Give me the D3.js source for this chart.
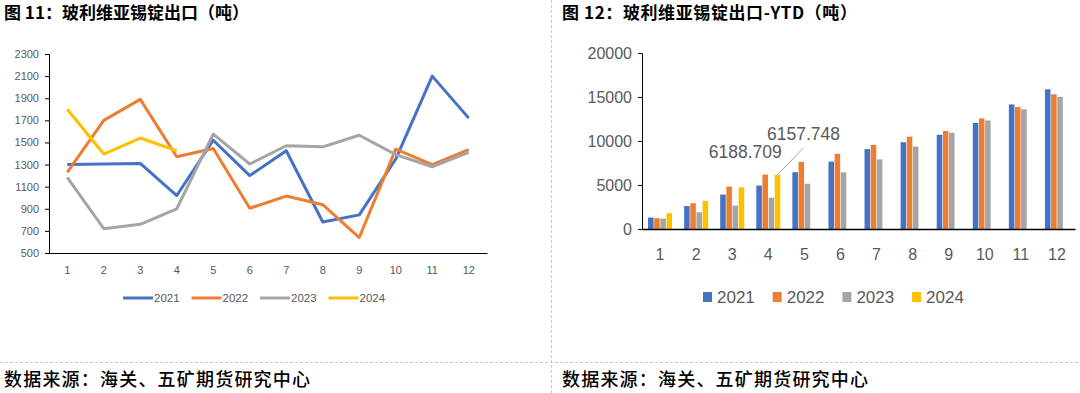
<!DOCTYPE html>
<html>
<head>
<meta charset="utf-8">
<script src="https://cdn.jsdelivr.net/npm/d3@7"></script>
<style>
  body { margin: 0; background: #fff; }
  svg { display: block; font-family: "Liberation Sans", Arial, sans-serif; }
  .cjk { font-family: "Noto Sans CJK SC", sans-serif; }
</style>
</head>
<body>
<div id="chart"></div>
<script>
const months = [1,2,3,4,5,6,7,8,9,10,11,12];
const years = ["2021","2022","2023","2024"];
const colors = ["#4472C4","#ED7D31","#A5A5A5","#FFC000"];

// monthly exports (t)
const m2021 = [1300,1305,1310,1020,1520,1200,1425,780,845,1350,2100,1720];
const m2022 = [1230,1700,1890,1370,1445,905,1015,937,640,1440,1300,1435];
const m2023 = [1185,720,760,900,1575,1305,1470,1460,1565,1390,1280,1410];
const m2024 = [1800,1395,1540,1425];

// year to date (t)
const y2021 = [1300,2605,3915,4935,6455,7655,9080,9860,10705,12055,14155,15875];
const y2022 = [1230,2930,4820,6188.709,7635,8540,9555,10490,11130,12570,13870,15305];
const y2023 = [1185,1905,2665,3565,5140,6445,7915,9375,10940,12330,13610,15020];
const y2024 = [1800,3195,4735,6157.748];

const leftTicks = [500,700,900,1100,1300,1500,1700,1900,2100,2300];
const rightTicks = [0,5000,10000,15000,20000];

const W = 1080, H = 393;
const svg = d3.select("#chart").append("svg").attr("width", W).attr("height", H);
const grey = "#595959";

// frames
svg.append("line").attr("x1", 551.5).attr("x2", 551.5).attr("y1", 0).attr("y2", H)
  .attr("stroke", "#c8c8c8").attr("stroke-dasharray", "3,2");
svg.append("line").attr("x1", 0).attr("x2", W).attr("y1", 362.5).attr("y2", 362.5)
  .attr("stroke", "#c8c8c8").attr("stroke-dasharray", "3,2");

// titles & sources
svg.append("text").attr("class","cjk").attr("x", 4).attr("y", 19)
  .attr("font-size", 17).attr("font-weight", "bold").text("图 11：玻利维亚锡锭出口（吨）");
svg.append("text").attr("class","cjk").attr("x", 562).attr("y", 19)
  .attr("font-size", 17).attr("font-weight", "bold").attr("letter-spacing", 0.6)
  .text("图 12：玻利维亚锡锭出口-YTD（吨）");
[4, 562].forEach(x => {
  svg.append("text").attr("class","cjk").attr("x", x).attr("y", 386)
    .attr("font-size", 18).attr("letter-spacing", 1.2).attr("font-weight", 500)
    .text("数据来源：海关、五矿期货研究中心");
});

// ---- left: line chart
const xL = d3.scaleBand().domain(months).range([49, 487]);
const yL = d3.scaleLinear().domain([500, 2300]).range([253, 54]);

const gy = svg.append("g").attr("transform", "translate(49,0)")
  .call(d3.axisLeft(yL).tickValues(leftTicks).tickFormat(d3.format("d")).tickSize(4).tickPadding(6));
gy.select(".domain").attr("stroke", "#000");
gy.selectAll(".tick line").attr("stroke", "#000");
gy.selectAll("text").attr("fill", grey).attr("font-size", 11);

const gx = svg.append("g").attr("transform", "translate(0,253)")
  .call(d3.axisBottom(xL).tickSize(0).tickPadding(13));
gx.select(".domain").attr("stroke", "#000");
gx.selectAll("text").attr("fill", grey).attr("font-size", 11);

const line = d3.line().x((d, i) => xL(months[i]) + xL.bandwidth() / 2).y(d => yL(d));
[m2021, m2022, m2023, m2024].forEach((s, k) => {
  svg.append("path").datum(s).attr("d", line).attr("fill", "none")
    .attr("stroke", colors[k]).attr("stroke-width", 3).attr("stroke-linejoin", "round");
});

const legL = svg.append("g").selectAll("g").data(years).join("g")
  .attr("transform", (d, i) => `translate(${123 + i * 68.5},298)`);
legL.append("line").attr("x1", 0).attr("x2", 30).attr("stroke", (d, i) => colors[i]).attr("stroke-width", 3);
legL.append("text").attr("x", 31).attr("dy", "0.35em").attr("font-size", 11.5).attr("fill", grey).text(d => d);

// ---- right: bar chart
const xR = d3.scaleBand().domain(months).range([642, 1075]);
const xS = d3.scaleBand().domain(years)
  .range([xR.bandwidth() / 2 - 12, xR.bandwidth() / 2 + 12]).paddingInner(0.1);
const yR = d3.scaleLinear().domain([0, 20000]).range([229, 53]);

const gy2 = svg.append("g").attr("transform", "translate(642,0)")
  .call(d3.axisLeft(yR).tickValues(rightTicks).tickFormat(d3.format("d")).tickSize(4).tickPadding(6));
gy2.select(".domain").attr("stroke", "#000");
gy2.selectAll(".tick line").attr("stroke", "#000");
gy2.selectAll("text").attr("fill", grey).attr("font-size", 16);

const series = [y2021, y2022, y2023, y2024];
series.forEach((s, k) => {
  svg.append("g").selectAll("rect").data(s).join("rect")
    .attr("x", (d, i) => xR(months[i]) + xS(years[k]))
    .attr("y", d => yR(d))
    .attr("width", xS.bandwidth())
    .attr("height", d => yR(0) - yR(d))
    .attr("fill", colors[k]);
});

const gx2 = svg.append("g").attr("transform", "translate(0,229)")
  .call(d3.axisBottom(xR).tickSize(0).tickPadding(20));
gx2.select(".domain").attr("stroke", "#000").attr("stroke-width", 1.5);
gx2.selectAll("text").attr("fill", grey).attr("font-size", 16);

// data labels at month 4
const ox = xR(4) + xS("2022") + xS.bandwidth() / 2, oy = yR(y2022[3]);
svg.append("text").attr("x", ox - 20).attr("y", oy - 23).attr("dy", "0.35em")
  .attr("text-anchor", "middle").attr("font-size", 17.5).attr("fill", grey)
  .text(d3.format(".3f")(y2022[3]));
const yx = xR(4) + xS("2024") + xS.bandwidth() / 2, yy = yR(y2024[3]);
svg.append("line").attr("x1", yx).attr("y1", yy).attr("x2", yx + 26).attr("y2", yy - 27)
  .attr("stroke", "#a6a6a6");
svg.append("text").attr("x", yx + 26).attr("y", yy - 41).attr("dy", "0.35em")
  .attr("text-anchor", "middle").attr("font-size", 17.5).attr("fill", grey)
  .text(d3.format(".3f")(y2024[3]));

const legR = svg.append("g").selectAll("g").data(years).join("g")
  .attr("transform", (d, i) => `translate(${703 + i * 69.7},297)`);
legR.append("rect").attr("x", 0).attr("y", -5).attr("width", 9).attr("height", 10).attr("fill", (d, i) => colors[i]);
legR.append("text").attr("x", 14).attr("dy", "0.35em").attr("font-size", 17).attr("fill", grey).text(d => d);
</script>
</body>
</html>
